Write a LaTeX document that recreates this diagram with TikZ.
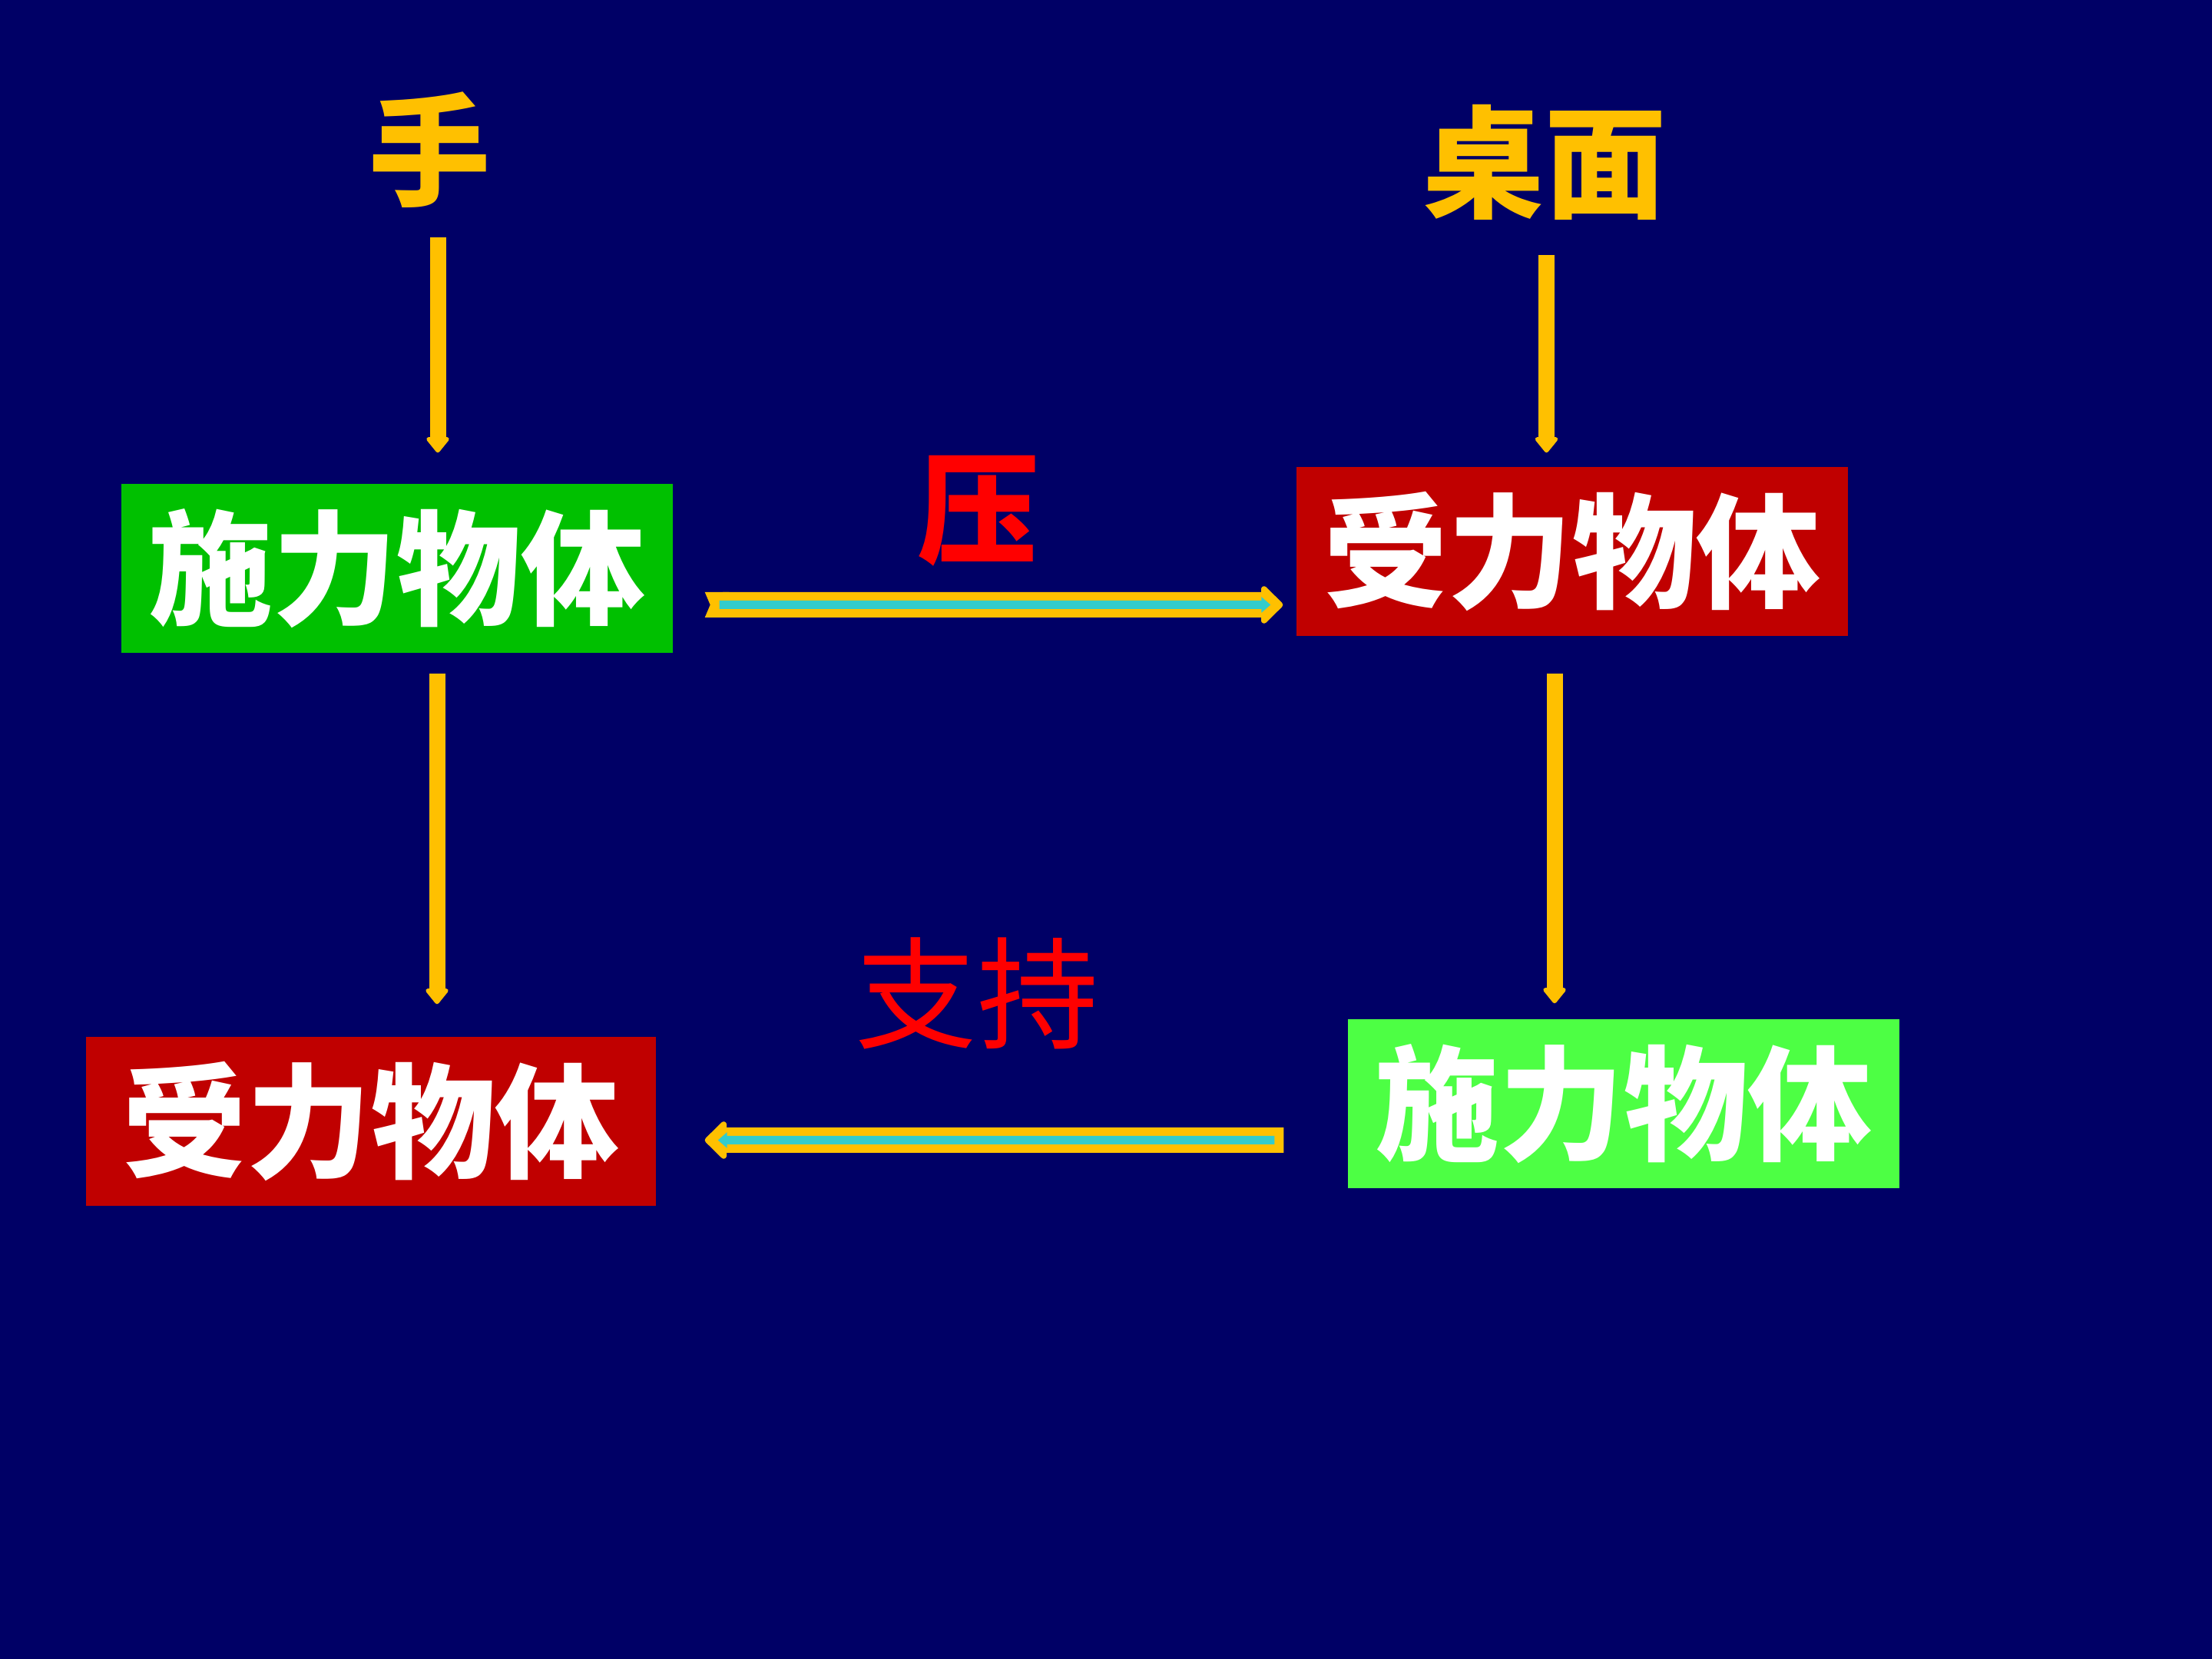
\documentclass[tikz,border=0pt]{standalone}
\usepackage{fontspec}
\usepackage{xcolor}
\usepackage{tikz}
\usetikzlibrary{arrows.meta, positioning, calc}
\newfontfamily\cjk{Noto Sans CJK SC}
\definecolor{FBNavy}{RGB}{0, 0, 102}
\definecolor{FBGreen}{RGB}{0, 192, 0}
\definecolor{FBLime}{RGB}{77, 255, 68}
\definecolor{FBRed}{RGB}{192, 0, 0}
\definecolor{FBYellow}{RGB}{255, 192, 0}
\definecolor{FBCyan}{RGB}{51, 204, 204}
\definecolor{FBLabel}{RGB}{255, 0, 0}

\begin{document}
\begin{tikzpicture}[
    forcebox/.style={minimum width=7.18cm, minimum height=2.2cm, inner sep=0pt,
      text=white, font=\cjk\bfseries\fontsize{46}{50}\selectfont},
    srclabel/.style={text=FBYellow, inner sep=0pt, font=\cjk\bfseries\fontsize{45}{50}\selectfont},
    forcelabel/.style={text=FBLabel, inner sep=0pt, font=\cjk\fontsize{45}{50}\selectfont},
    vline/.style={draw=FBYellow, line width=0.21cm,
      -{Triangle[width=0.34cm, length=0.22cm, round]}},
    hline/.style={draw=FBYellow, line width=0.33cm},
    hcore/.style={draw=FBCyan, line width=0.11cm, -{Triangle[width=0.2cm, length=0.12cm]}}
  ]
  % background and page size
  \fill[FBNavy] (0,0) rectangle (28.8,21.6);

  % sources
  \node[srclabel] (hand) at (5.60,19.65) {手};
  \node[srclabel] (desk) at (20.11,19.49) {桌面};

  % boxes
  \node[forcebox, fill=FBGreen] (shi1) at (5.17,14.20) {施力物体};
  \node[forcebox, fill=FBRed] (shou1) at (20.47,14.42) {受力物体};
  \node[forcebox, fill=FBRed, minimum width=7.42cm] (shou2) at (4.83,7.00) {受力物体};
  \node[forcebox, fill=FBLime] (shi2) at (21.14,7.23) {施力物体};

  % force names
  \node[forcelabel, font=\cjk\bfseries\fontsize{45}{50}\selectfont] (ya) at (12.74,14.95) {压};
  \node[forcelabel] (zhichi) at (12.72,8.67) {支持};

  % vertical arrows
  \draw[vline] ($(hand.center)+(0.10,-1.14)$) -- ($(hand.center |- shi1.north)+(0.10,0.40)$);
  \draw[vline] ($(desk.center)+(0.025,-1.21)$) -- ($(desk.center |- shou1.north)+(0.025,0.18)$);
  \draw[vline] ($(shi1.south)+(0.52,-0.26)$) -- ($(shi1.center |- shou2.north)+(0.52,0.42)$);
  \draw[vline] ($(shou1.south)+(-0.23,-0.48)$) -- ($(shou1.center |- shi2.north)+(-0.23,0.20)$);

  % horizontal arrows
  \draw[hline, {Triangle Cap[reversed, length=0.07cm]}-{Triangle[width=0.57cm, length=0.30cm, round]}]
    ($(shi1.east)+(0.41,-0.475)$) -- ($(shou1.west)+(-0.17,-0.695)$);
  \draw[hcore] ($(shi1.east)+(0.60,-0.475)$) -- ($(shou1.west)+(-0.33,-0.695)$);
  \draw[hline, -{Triangle[width=0.57cm, length=0.30cm, round]}]
    ($(shi2.west)+(-0.83,-0.475)$) -- ($(shou2.east)+(0.63,-0.245)$);
  \draw[hcore] ($(shi2.west)+(-0.95,-0.475)$) -- ($(shou2.east)+(0.80,-0.245)$);
\end{tikzpicture}
\end{document}
